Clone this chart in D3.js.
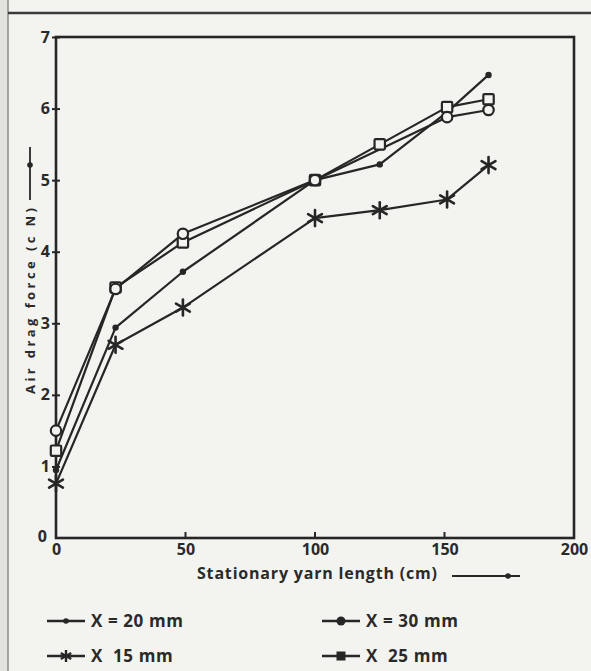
<!DOCTYPE html>
<html>
<head>
<meta charset="utf-8">
<script src="https://cdn.jsdelivr.net/npm/d3@7/dist/d3.min.js"></script>
<style>
  html, body { margin: 0; padding: 0; background: #f3f3f0; }
  svg { display: block; }
  text { font-family: "Open Sans", "DejaVu Sans", sans-serif; font-weight: 700; fill: #2a2a2a; }
</style>
</head>
<body>
<svg id="chart" width="591" height="671"></svg>
<script>
// Stationary yarn length (cm) and air drag force (cN) for each nozzle distance X
const lengths20 = [0, 23, 49, 100, 125, 151, 167];
const force20   = [0.95, 2.94, 3.72, 5.0, 5.22, 5.95, 6.47];

const lengths30 = [0, 23, 49, 100, 151, 167];
const force30   = [1.5, 3.48, 4.25, 5.0, 5.88, 5.98];

const lengths25 = [0, 23, 49, 100, 125, 151, 167];
const force25   = [1.22, 3.5, 4.13, 5.0, 5.5, 6.02, 6.13];

const lengths15 = [0, 23, 49, 100, 125, 151, 167];
const force15   = [0.76, 2.7, 3.22, 4.47, 4.58, 4.73, 5.21];

const xTicks = [0, 50, 100, 150, 200];
const yTicks = [0, 1, 2, 3, 4, 5, 6, 7];

const xTitle = "Stationary yarn length (cm)";
const yTitle = "Air  drag  force (c N)";
const legendLabels = ["X = 20 mm", "X = 30 mm", "X  15 mm", "X  25 mm"];

const bg = "#f3f3f0";
const ink = "#262626";

const svg = d3.select("#chart");

// page border of the figure
svg.append("rect").attr("x", 0).attr("y", 0).attr("width", 8).attr("height", 671).attr("fill", "#e2e2df");
svg.append("line").attr("x1", 8).attr("x2", 8).attr("y1", 0).attr("y2", 671)
  .attr("stroke", "#8a8a88").attr("stroke-width", 1.5);
svg.append("line").attr("x1", 8).attr("x2", 591).attr("y1", 13).attr("y2", 13)
  .attr("stroke", "#3a3a3a").attr("stroke-width", 2.5);

const x = d3.scaleLinear().domain([0, 200]).range([56, 574]);
const y = d3.scaleLinear().domain([0, 7]).range([538, 37]);

// plot frame
svg.append("rect")
  .attr("x", x(0)).attr("y", y(7))
  .attr("width", x(200) - x(0)).attr("height", y(0) - y(7))
  .attr("fill", "none").attr("stroke", ink).attr("stroke-width", 2.6);

// x axis ticks and labels
const xAxis = d3.axisBottom(x).tickValues(xTicks).tickFormat(d3.format("d")).tickSize(0).tickPadding(6);
const gx = svg.append("g").attr("transform", `translate(0,${y(0)})`).call(xAxis);
gx.select(".domain").remove();
gx.selectAll("text").attr("font-size", 16).style("font-family", "'Open Sans', sans-serif")
  .style("font-weight", 700).attr("fill", ink);
svg.append("g").selectAll("line").data(xTicks.filter(d => d > 0 && d < 200)).join("line")
  .attr("x1", d => x(d)).attr("x2", d => x(d))
  .attr("y1", y(0)).attr("y2", y(0) - 6)
  .attr("stroke", ink).attr("stroke-width", 2);

// y axis ticks and labels
const yAxis = d3.axisLeft(y).tickValues(yTicks.filter(d => d > 0))
  .tickFormat(d3.format("d")).tickSize(4).tickPadding(2);
const gy = svg.append("g").attr("transform", `translate(${x(0)},0)`).call(yAxis);
gy.select(".domain").remove();
gy.selectAll("line").attr("x2", -4).attr("x1", 4).attr("stroke", ink).attr("stroke-width", 2);
gy.selectAll("text").attr("font-size", 16).style("font-family", "'Open Sans', sans-serif")
  .style("font-weight", 700).attr("fill", ink);
svg.append("text").attr("x", x(0) - 9).attr("y", y(0) + 4)
  .attr("text-anchor", "end").attr("font-size", 16).text(yTicks[0]);

// series lines
const line = d3.line().x(d => x(d[0])).y(d => y(d[1]));
const series = [
  { xs: lengths20, ys: force20, marker: "dot" },
  { xs: lengths30, ys: force30, marker: "circle" },
  { xs: lengths15, ys: force15, marker: "star" },
  { xs: lengths25, ys: force25, marker: "square" }
];
series.forEach(s => { s.pts = s.xs.map((v, i) => [v, s.ys[i]]); });

const gLines = svg.append("g");
series.forEach(s => {
  gLines.append("path").datum(s.pts)
    .attr("d", line).attr("fill", "none")
    .attr("stroke", ink).attr("stroke-width", 2.2).attr("stroke-linejoin", "round");
});

function drawMarker(g, type, cx, cy) {
  if (type === "dot") {
    g.append("circle").attr("cx", cx).attr("cy", cy).attr("r", 3.2).attr("fill", ink);
  } else if (type === "circle") {
    g.append("circle").attr("cx", cx).attr("cy", cy).attr("r", 5.2)
      .attr("fill", bg).attr("stroke", ink).attr("stroke-width", 2.2);
  } else if (type === "square") {
    const h = 5.2;
    g.append("rect").attr("x", cx - h).attr("y", cy - h).attr("width", 2 * h).attr("height", 2 * h)
      .attr("rx", 1.2).attr("fill", bg).attr("stroke", ink).attr("stroke-width", 2.2);
  } else if (type === "star") {
    const r = 8;
    [90, 30, 150].forEach(a => {
      const t = a * Math.PI / 180;
      g.append("line")
        .attr("x1", cx - r * Math.cos(t)).attr("y1", cy - r * Math.sin(t))
        .attr("x2", cx + r * Math.cos(t)).attr("y2", cy + r * Math.sin(t))
        .attr("stroke", ink).attr("stroke-width", 2.6).attr("stroke-linecap", "round");
    });
  }
}

const gMarks = svg.append("g");
["star", "dot", "square", "circle"].forEach(type => {
  series.filter(s => s.marker === type).forEach(s => {
    s.pts.forEach(p => drawMarker(gMarks, type, x(p[0]), y(p[1])));
  });
});

// axis titles with arrows
svg.append("text").attr("x", 197).attr("y", 579)
  .attr("font-size", 16).attr("textLength", 240).attr("lengthAdjust", "spacing")
  .text(xTitle);
svg.append("line").attr("x1", 452).attr("x2", 520).attr("y1", 576).attr("y2", 576)
  .attr("stroke", ink).attr("stroke-width", 1.8);
svg.append("circle").attr("cx", 508).attr("cy", 576).attr("r", 2.8).attr("fill", ink);

svg.append("text")
  .attr("transform", "translate(35,394) rotate(-90)")
  .attr("font-size", 13).attr("textLength", 186).attr("lengthAdjust", "spacing")
  .text(yTitle);
svg.append("line").attr("x1", 30).attr("x2", 30).attr("y1", 200).attr("y2", 147)
  .attr("stroke", ink).attr("stroke-width", 1.8);
svg.append("circle").attr("cx", 30).attr("cy", 165).attr("r", 2.8).attr("fill", ink);

// legend
const legend = [
  { label: legendLabels[0], marker: "dot", lx: 47, ly: 621 },
  { label: legendLabels[1], marker: "dot-big", lx: 322, ly: 621 },
  { label: legendLabels[2], marker: "star", lx: 47, ly: 656 },
  { label: legendLabels[3], marker: "square-fill", lx: 322, ly: 656 }
];
const gLeg = svg.append("g");
legend.forEach(d => {
  gLeg.append("line").attr("x1", d.lx).attr("x2", d.lx + 38).attr("y1", d.ly).attr("y2", d.ly)
    .attr("stroke", ink).attr("stroke-width", 2.4);
  const cx = d.lx + 19;
  if (d.marker === "dot") {
    gLeg.append("circle").attr("cx", cx).attr("cy", d.ly).attr("r", 2.8).attr("fill", ink);
  } else if (d.marker === "dot-big") {
    gLeg.append("circle").attr("cx", cx).attr("cy", d.ly).attr("r", 4.5).attr("fill", ink);
  } else if (d.marker === "square-fill") {
    gLeg.append("rect").attr("x", cx - 4.5).attr("y", d.ly - 4.5).attr("width", 9).attr("height", 9)
      .attr("fill", ink);
  } else if (d.marker === "star") {
    [90, 30, 150].forEach(a => {
      const t = a * Math.PI / 180, r = 6;
      gLeg.append("line")
        .attr("x1", cx - r * Math.cos(t)).attr("y1", d.ly - r * Math.sin(t))
        .attr("x2", cx + r * Math.cos(t)).attr("y2", d.ly + r * Math.sin(t))
        .attr("stroke", ink).attr("stroke-width", 2.4);
    });
  }
  gLeg.append("text").attr("x", d.lx + 44).attr("y", d.ly + 6)
    .attr("font-size", 17).attr("letter-spacing", 0.6).attr("xml:space", "preserve")
    .style("white-space", "pre")
    .text(d.label);
});
</script>
</body>
</html>
